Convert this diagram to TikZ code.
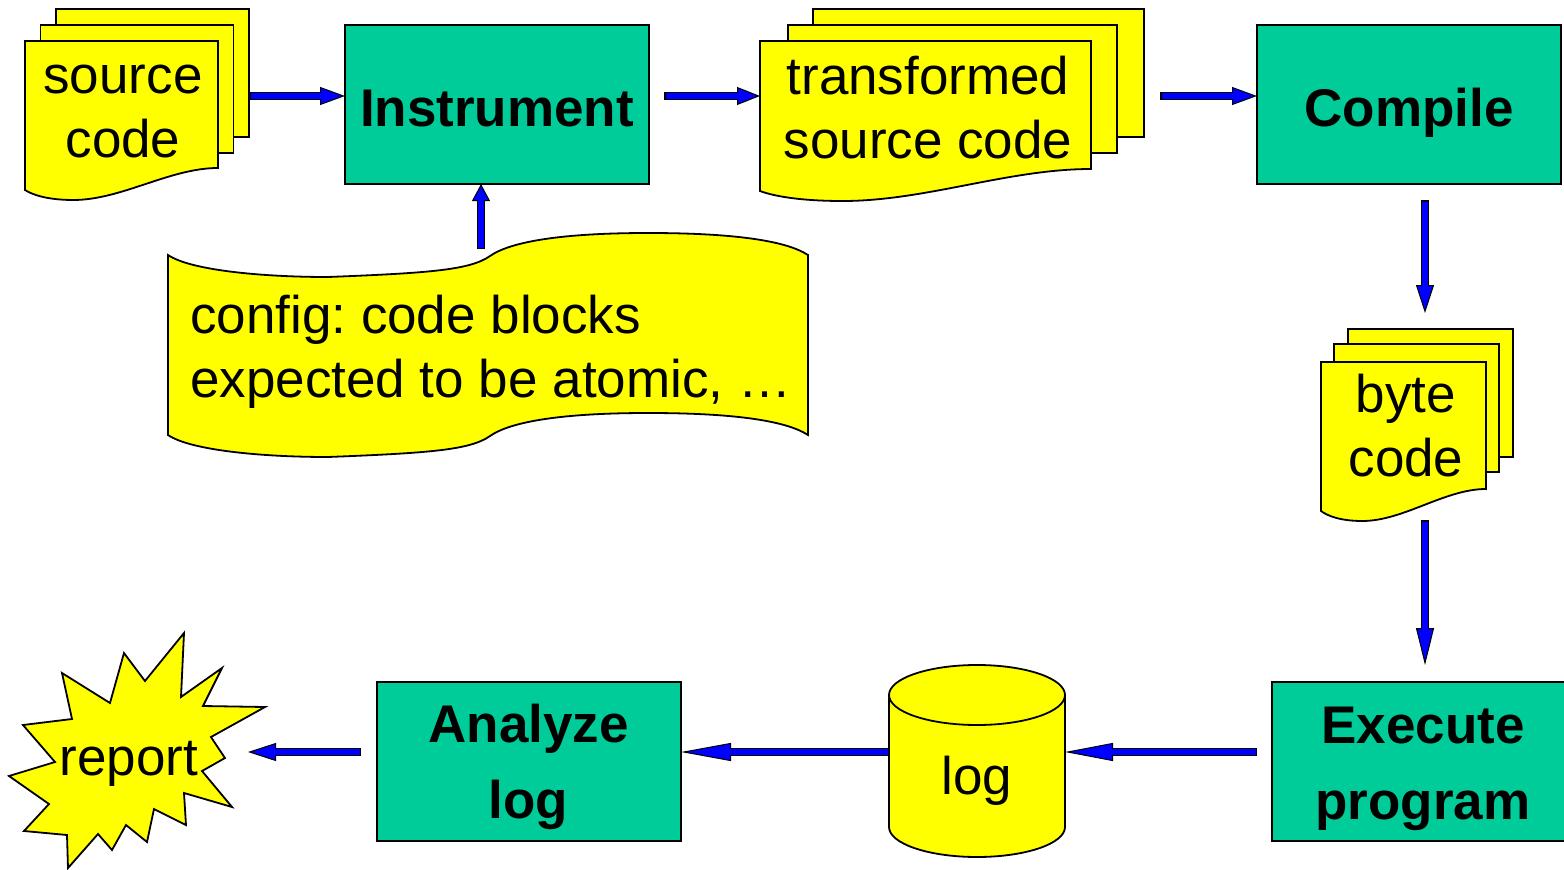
\documentclass[tikz,border=0pt]{standalone}
\usepackage{fontspec}
\setmainfont{Liberation Sans}
\usetikzlibrary{arrows.meta,calc}
\frenchspacing
\definecolor{boxgreen}{HTML}{00CC99}
\definecolor{docyellow}{HTML}{FFFF00}
\definecolor{arrowblue}{HTML}{0000FF}
\tikzset{
  outl/.style={draw=black, line width=1.8pt, line join=miter},
  procbox/.style={outl, fill=boxgreen, inner sep=0pt, outer sep=0pt},
  sheet/.style={outl, fill=docyellow, inner sep=0pt, outer sep=0pt},
  frame/.style={inner sep=0pt, outer sep=0pt},
  txt/.style={inner sep=0pt, font=\fontsize{53}{64}\selectfont, align=center},
  btxt/.style={inner sep=0pt, font=\fontsize{53}{76}\selectfont\bfseries, align=center},
  flow/.style={draw=black, line width=1pt,
    -{Triangle[length=#1, width=18pt, fill=arrowblue]},
    postaction={draw=black, line width=8.5pt, -, shorten >=#1},
    postaction={draw=arrowblue, line width=5.5pt, -, shorten >=#1-2pt, shorten <=1.5pt}},
}
\newcommand\wavydoc[1]{%
  \path[sheet] (#1.north west) -- (#1.north east) -- ($(#1.south east)+(0,-22)$)
    .. controls ($(#1.south east)!0.25!(#1.south west)+(0,-22)$) and ($(#1.south west)!0.5!(#1.south east)+(0,10)$) .. ($(#1.south west)!0.25!(#1.south east)+(0,10)$)
    .. controls ($(#1.south west)!0.12!(#1.south east)+(0,10)$) and ($(#1.south west)!0.04!(#1.south east)+(0,5)$) .. (#1.south west) -- cycle;}
\begin{document}
\begin{tikzpicture}[x=1pt,y=-1pt]
\useasboundingbox (0,0) rectangle (1564,870);
\coordinate (r1) at (0,96);
\coordinate (r3) at (0,752);
\coordinate (c1) at (1425,0);

% source code stack
\node[sheet, minimum width=193pt, minimum height=128pt] (src3) at (152.5,73) {};
\node[sheet, minimum width=193pt, minimum height=128pt] (src2) at (137,89) {};
\node[frame, minimum width=193pt, minimum height=149pt] (srcF) at (121.5,115.5) {};
\wavydoc{srcF}
\node[txt] (src) at (123,112.2) {\strut source\\\strut code};

% Instrument
\node[procbox, minimum width=304pt, minimum height=159pt] (Instrument) at (497,104.5) {};
\node[btxt] (Instrument-t) at (497,113.2) {\fontsize{53}{64}\selectfont\strut Instrument};

% transformed source code stack
\node[sheet, minimum width=331pt, minimum height=128pt] (trf3) at (978.5,73) {};
\node[sheet, minimum width=329pt, minimum height=128pt] (trf2) at (952.5,89) {};
\node[frame, minimum width=331pt, minimum height=150pt] (trfF) at (925.5,116) {};
\wavydoc{trfF}
\node[txt] (trf) at (928,113.2) {\strut transformed\\\strut source code};

% Compile
\node[procbox, minimum width=304pt, minimum height=159pt] (Compile) at (1409,104.5) {};
\node[btxt] (Compile-t) at (1409,113.2) {\fontsize{53}{64}\selectfont\strut Compile};

% byte code stack
\node[sheet, minimum width=165pt, minimum height=128pt] (bc3) at (1430.5,393) {};
\node[sheet, minimum width=165pt, minimum height=128pt] (bc2) at (1416.5,408) {};
\node[frame, minimum width=165pt, minimum height=149pt] (bcF) at (1403.5,436.5) {};
\wavydoc{bcF}
\node[txt] (bc) at (1406,431.7) {\strut byte\\\strut code};

% config
\node[frame, minimum width=640pt, minimum height=180pt] (cfg) at (488,345) {};
\begin{scope}[shift={(cfg.north west)}]
\path[sheet] (0,0) .. controls (22,15) and (92,22) .. (160,22)
  .. controls (262,18) and (302,15) .. (322,1)
  .. controls (342,-13) and (392,-22) .. (480,-22)
  .. controls (562,-22) and (617,-15) .. (640,0)
  -- (640,180) .. controls (617,165) and (562,158) .. (480,158)
  .. controls (392,158) and (342,167) .. (322,181)
  .. controls (302,195) and (262,198) .. (160,202)
  .. controls (92,202) and (22,195) .. (0,180) -- cycle;
\end{scope}
\node[txt, align=left, anchor=north west] (cfg-t) at (190,288.2) {\strut config: code blocks\\\strut expected to be atomic, …};
\coordinate (cfgin) at (481,249);

% Execute program
\node[procbox, minimum width=304pt, minimum height=159pt] (Execute) at (1424,761.5) {};
\node[btxt] (Execute-t) at (1423,765.8) {\strut Execute\\\strut program};

% log cylinder
\node[frame, minimum width=176pt, minimum height=192pt] (logdb) at (977,761) {};
\path[sheet] (889,695) -- (889,827) arc[start angle=180, end angle=360, x radius=88pt, y radius=30pt]
  -- (1065,695) arc[start angle=0, end angle=180, x radius=88pt, y radius=30pt] -- cycle;
\draw[outl] (889,695) arc[start angle=180, end angle=360, x radius=88pt, y radius=30pt];
\node[txt] (logdb-t) at (977,781.2) {\strut log};

% Analyze log
\node[procbox, minimum width=304pt, minimum height=159pt] (Analyze) at (529,761.5) {};
\node[btxt] (Analyze-t) at (528.5,764.8) {\strut Analyze\\\strut log};

% report starburst
\path[sheet] (184,633) -- (181,697) -- (222,668) -- (203,706) -- (265,707) -- (211,737)
  -- (225,758) -- (202,771) -- (232,807) -- (184,793) -- (186,825) -- (154,809)
  -- (147,842) -- (126,825) -- (112,850) -- (98,834) -- (68,868) -- (67,835)
  -- (24,831) -- (49,804) -- (9,776) -- (55,762) -- (23,725) -- (72,719)
  -- (62,673) -- (110,703) -- (124,653) -- (145,681) -- cycle;
\node[txt] (rep) at (129,762.2) {\strut report};
\coordinate (repR) at (248,752);

% connectors
\draw[flow=25pt] (src3.east |- r1) -- (Instrument.west |- r1);
\draw[flow=23pt] ($(Instrument.east |- r1)+(15,0)$) -- (trfF.west |- r1);
\draw[flow=25pt] ($(trf3.east |- r1)+(16,0)$) -- (Compile.west |- r1);
\draw[flow=28pt] ($(c1 |- Compile.south)+(0,16)$) -- ($(c1 |- bc3.north)+(0,-16)$);
\draw[flow=37pt] ($(c1 |- bcF.south)+(0,9)$) -- ($(c1 |- Execute.north)+(0,-17)$);
\draw[flow=48pt] ($(Execute.west |- r3)+(-15,0)$) -- (logdb.east |- r3);
\draw[flow=50pt] (logdb.west |- r3) -- (Analyze.east |- r3);
\draw[flow=28pt] ($(Analyze.west |- r3)+(-16,0)$) -- (repR);
\draw[flow=17pt] (cfgin) -- (cfgin |- Instrument.south);
\end{tikzpicture}
\end{document}
